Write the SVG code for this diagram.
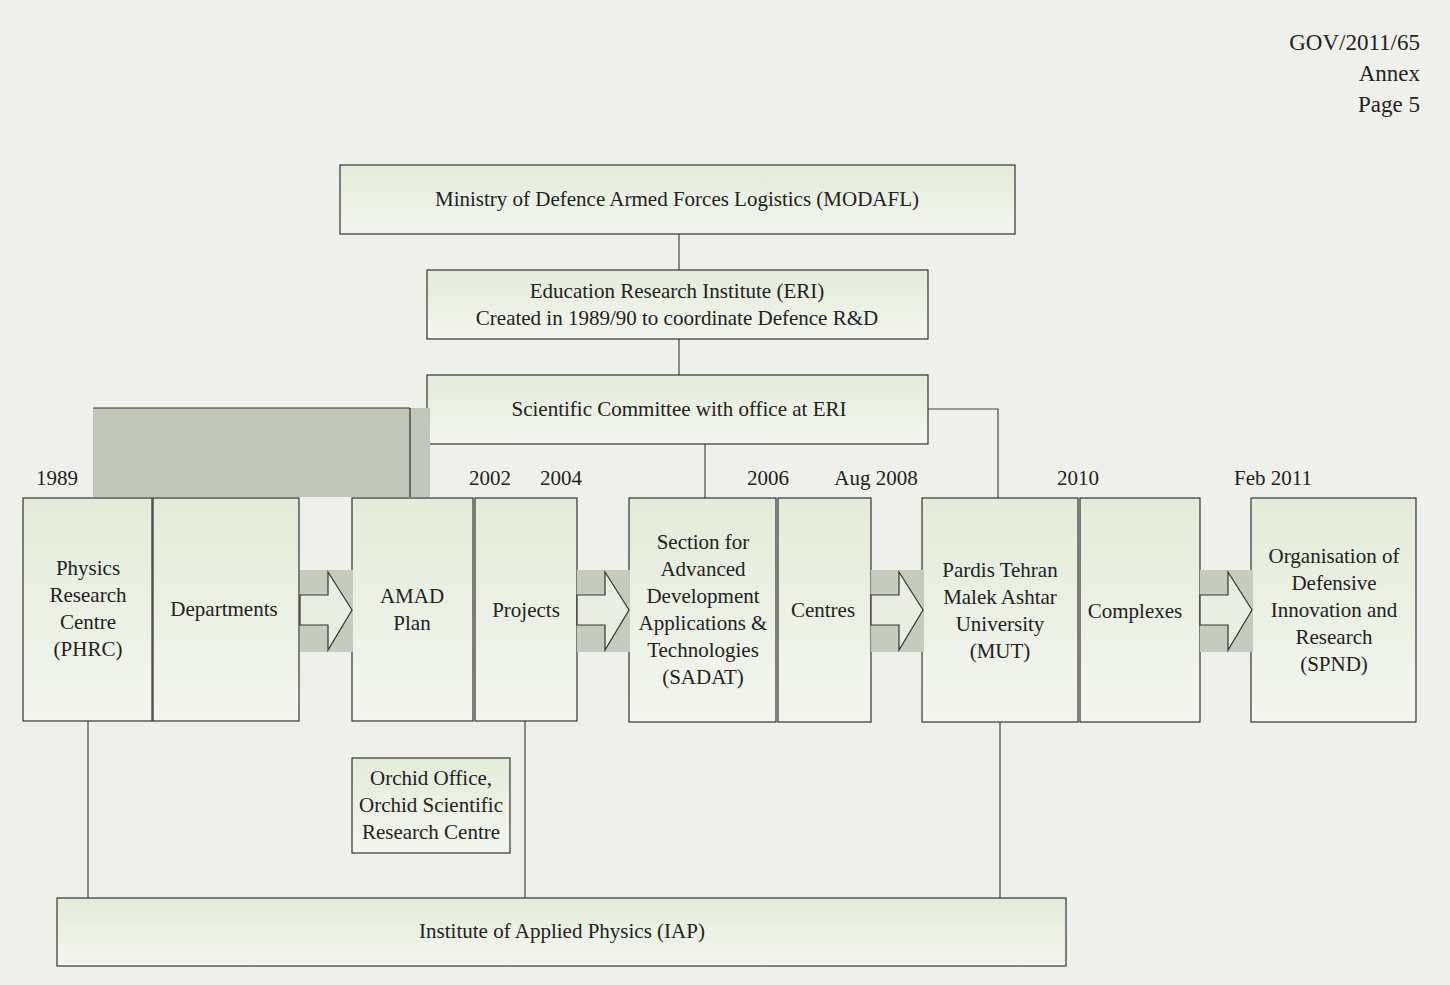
<svg xmlns="http://www.w3.org/2000/svg" width="1450" height="985" viewBox="0 0 1450 985">
<defs>
<linearGradient id="g" x1="0" y1="0" x2="0" y2="1"><stop offset="0" stop-color="#e4ecd9"/><stop offset="1" stop-color="#f3f5ee"/></linearGradient>
<g id="arr"><rect x="0" y="0" width="53" height="82" fill="#c5cbbd"/><path d="M0,25 H28 V2 L52,40 L28,80 V55 H0 Z" fill="#eaeee2" stroke="#333" stroke-width="1.2"/></g>
</defs>
<style>
.b{fill:url(#g);stroke:#333;stroke-width:1.2}
text{font-family:"Liberation Serif",serif;font-size:21px;fill:#222;text-anchor:middle}
.c{fill:none;stroke:#444;stroke-width:1.2}
</style>
<rect width="1450" height="985" fill="#eff0ec"/>
<g id="header"><text x="1420" y="50" style="text-anchor:end;font-size:23px">GOV/2011/65</text><text x="1420" y="81" style="text-anchor:end;font-size:23px">Annex</text><text x="1420" y="112" style="text-anchor:end;font-size:23px">Page 5</text></g>
<g id="connectors">
<path class="c" d="M679,234V270M679,339V375M705,444V498M928,409H998V498M88,721V898M525,721V898M1000,722V898"/>
</g>
<g id="years"><text x="57" y="485">1989</text><text x="257" y="485">1998/99</text><text x="490" y="485">2002</text><text x="561" y="485">2004</text><text x="768" y="485">2006</text><text x="876" y="485">Aug 2008</text><text x="1078" y="485">2010</text><text x="1273" y="485">Feb 2011</text></g>
<g id="modafl"><rect class="b" x="340" y="165" width="675" height="69"/><text x="677" y="206">Ministry of Defence Armed Forces Logistics (MODAFL)</text></g>
<g id="eri"><rect class="b" x="427" y="270" width="501" height="69"/><text x="677" y="298">Education Research Institute (ERI)</text><text x="677" y="325">Created in 1989/90 to coordinate Defence R&amp;D</text></g>
<g id="sci"><rect class="b" x="427" y="375" width="501" height="69"/><text x="679" y="416">Scientific Committee with office at ERI</text></g>
<g id="greyband"><rect x="93" y="408" width="337" height="89" fill="#c0c6b9"/><line x1="93" y1="408" x2="410" y2="408" stroke="#333" stroke-width="1.2"/><line x1="410" y1="408" x2="410" y2="497" stroke="#333" stroke-width="1.2"/></g>
<g id="phrc"><rect class="b" x="23" y="498" width="129" height="223"/><text x="88" y="575">Physics</text><text x="88" y="602">Research</text><text x="88" y="629">Centre</text><text x="88" y="656">(PHRC)</text></g>
<g id="dept"><rect class="b" x="153" y="498" width="146" height="223"/><text x="224" y="616">Departments</text></g>
<g id="amad"><rect class="b" x="352" y="498" width="121" height="223"/><text x="412" y="603">AMAD</text><text x="412" y="630">Plan</text></g>
<g id="projects"><rect class="b" x="475" y="498" width="102" height="223"/><text x="526" y="617">Projects</text></g>
<g id="sadat"><rect class="b" x="629" y="498" width="147" height="224"/><text x="703" y="549">Section for</text><text x="703" y="576">Advanced</text><text x="703" y="603">Development</text><text x="703" y="630">Applications &amp;</text><text x="703" y="657">Technologies</text><text x="703" y="684">(SADAT)</text></g>
<g id="centres"><rect class="b" x="778" y="498" width="93" height="224"/><text x="823" y="617">Centres</text></g>
<g id="mut"><rect class="b" x="922" y="498" width="156" height="224"/><text x="1000" y="577">Pardis Tehran</text><text x="1000" y="604">Malek Ashtar</text><text x="1000" y="631">University</text><text x="1000" y="658">(MUT)</text></g>
<g id="complexes"><rect class="b" x="1080" y="498" width="120" height="224"/><text x="1135" y="618">Complexes</text></g>
<g id="spnd"><rect class="b" x="1251" y="498" width="165" height="224"/><text x="1334" y="563">Organisation of</text><text x="1334" y="590">Defensive</text><text x="1334" y="617">Innovation and</text><text x="1334" y="644">Research</text><text x="1334" y="671">(SPND)</text></g>
<g id="arrows"><use href="#arr" x="300" y="570"/><use href="#arr" x="577" y="570"/><use href="#arr" x="871" y="570"/><use href="#arr" x="1200" y="570"/></g>
<g id="orchid"><rect class="b" x="352" y="758" width="158" height="95"/><text x="431" y="785">Orchid Office,</text><text x="431" y="812">Orchid Scientific</text><text x="431" y="839">Research Centre</text></g>
<g id="iap"><rect class="b" x="57" y="898" width="1009" height="68"/><text x="562" y="938">Institute of Applied Physics (IAP)</text></g>
</svg>
